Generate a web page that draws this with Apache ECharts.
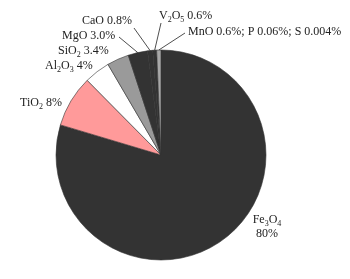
<!DOCTYPE html>
<html>
<head>
<meta charset="utf-8">
<script src="https://cdn.jsdelivr.net/npm/echarts@6/dist/echarts.min.js"></script>
<style>html,body{margin:0;padding:0;background:#fff;}#c{width:350px;height:279px;}</style>
</head>
<body>
<div id="c"></div>
<script>
// Data
const categories = ['Fe3O4', 'TiO2', 'Al2O3', 'SiO2', 'MgO', 'CaO', 'V2O5', 'MnO; P; S'];
const values = [80, 8, 4, 3.4, 3.0, 0.8, 0.6, 0.664];
const labelTexts = [
  'Fe{s|3}O{s|4}\n80%',
  'TiO{s|2} 8%',
  'Al{s|2}O{s|3} 4%',
  'SiO{s|2} 3.4%',
  'MgO 3.0%',
  'CaO 0.8%',
  'V{s|2}O{s|5} 0.6%',
  'MnO 0.6%; P 0.06%; S 0.004%'
];
const colors = ['#333333', '#ff9a9a', '#ffffff', '#9a9a9a', '#333333', '#333333', '#333333', '#a8a8a8'];
const hasLeader = [false, false, false, false, true, true, true, true];

// Layout (label placement only)
const labelPos = [
  [267, 226, 'center'],
  [20, 103, 'left'],
  [45, 66, 'left'],
  [58, 51, 'left'],
  [62, 36, 'left'],
  [82, 21, 'left'],
  [159, 16, 'left'],
  [188, 32, 'left']
];
const leaderEnd = [null, null, null, null, [119, 37], [134, 28], [161, 23], [185, 33]];

const chart = echarts.init(document.getElementById('c'), null, {renderer: 'canvas'});
const data = categories.map((c, i) => ({
  name: c,
  value: values[i],
  itemStyle: {color: colors[i]},
  label: {formatter: labelTexts[i], align: labelPos[i][2]},
  labelLine: {show: hasLeader[i]}
}));

chart.setOption({
  animation: false,
  series: [{
    type: 'pie',
    center: [161, 155],
    radius: [0, 105],
    startAngle: 90,
    clockwise: true,
    avoidLabelOverlap: false,
    data: data,
    itemStyle: {borderColor: '#333', borderWidth: 0.6},
    emphasis: {disabled: true},
    label: {
      show: true,
      position: 'outside',
      fontFamily: 'Liberation Serif',
      fontSize: 12,
      lineHeight: 12,
      color: '#222',
      rich: {
        s: {fontFamily: 'Liberation Serif', fontSize: 8, lineHeight: 16, verticalAlign: 'bottom', color: '#222'}
      }
    },
    labelLine: {
      show: true,
      length: 10,
      length2: 10,
      smooth: false,
      lineStyle: {color: '#222', width: 0.8}
    },
    labelLayout: function (params) {
      const i = params.dataIndex;
      const p = labelPos[i];
      const out = {x: p[0], y: p[1], align: p[2], verticalAlign: 'middle'};
      if (hasLeader[i] && params.labelLinePoints) {
        const s = params.labelLinePoints[0];
        const e = leaderEnd[i];
        out.labelLinePoints = [[s[0], s[1]], [e[0], e[1]], [e[0], e[1]]];
      }
      return out;
    }
  }]
});
</script>
</body>
</html>
